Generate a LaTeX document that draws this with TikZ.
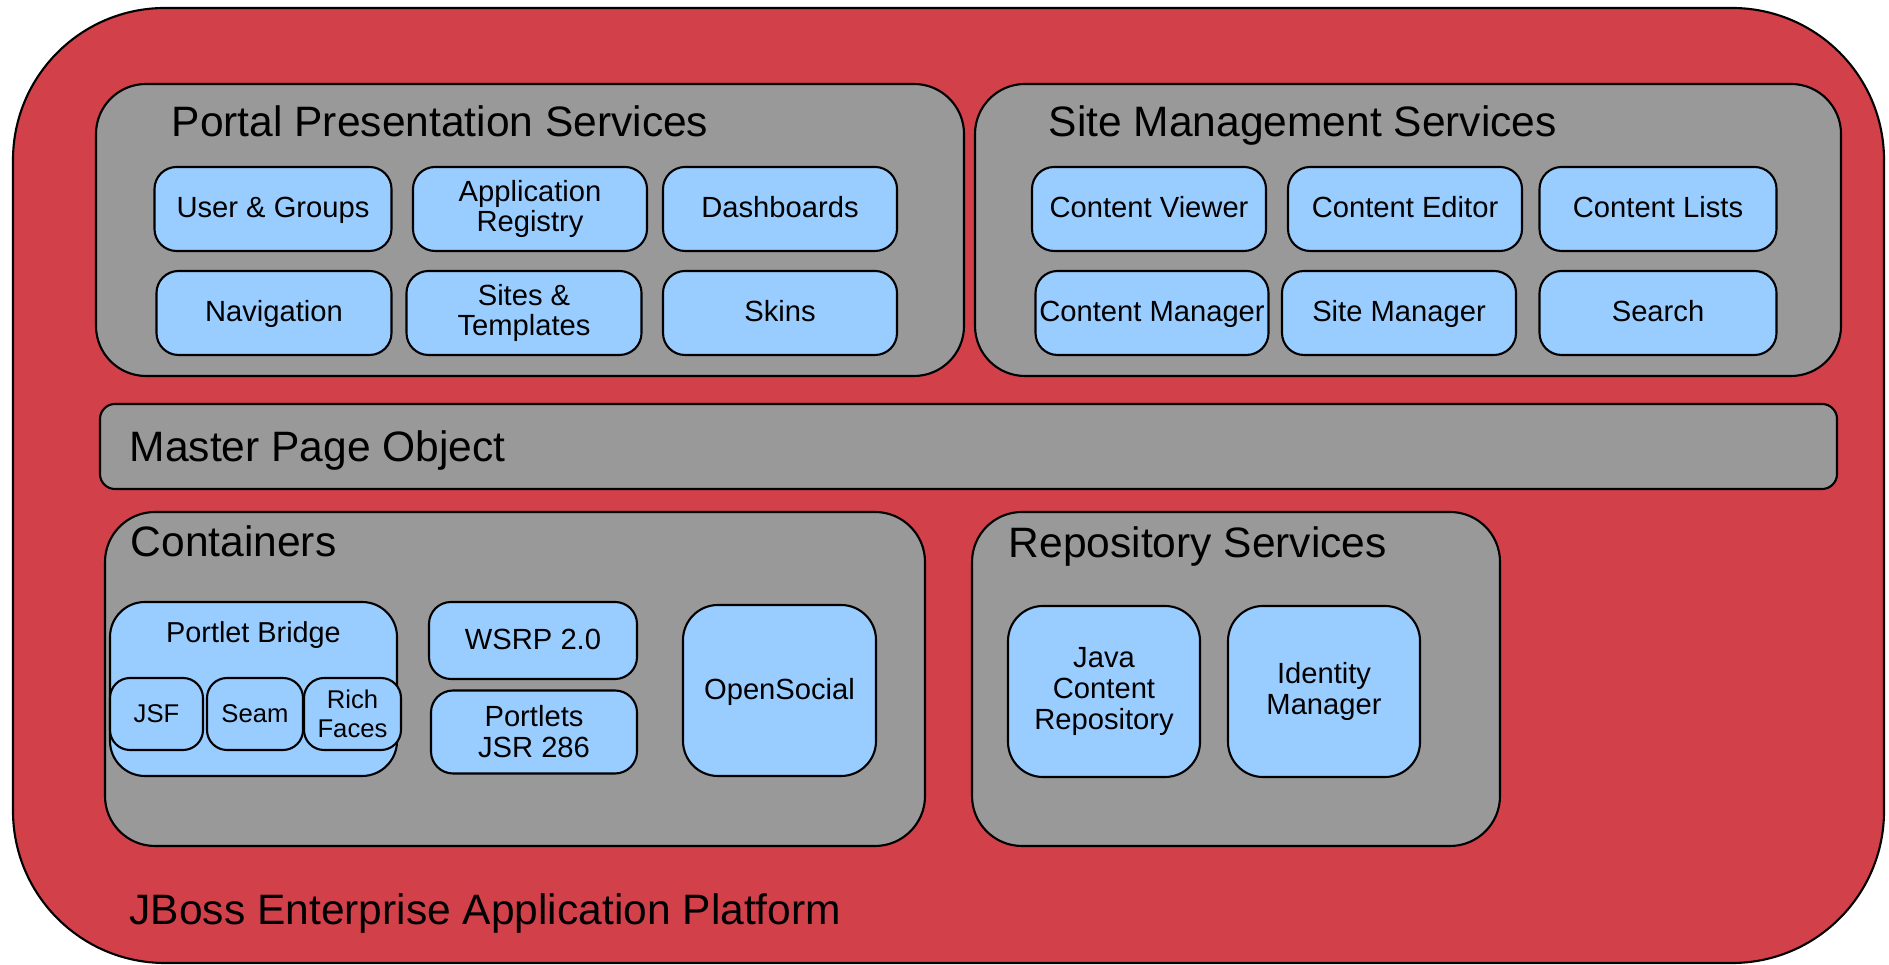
\documentclass[tikz,border=0pt]{standalone}
\usepackage{fontspec}
\setmainfont{Liberation Sans}
\usetikzlibrary{positioning}
\definecolor{jbred}{HTML}{D2404A}
\definecolor{grpgray}{HTML}{999999}
\definecolor{compblue}{HTML}{99CCFF}

\begin{document}
\begin{tikzpicture}

\tikzset{platform/.style = {draw, fill=jbred, line width=0.6pt, rounded corners=1.52cm, inner sep=0pt}}
\tikzset{group/.style = {draw, fill=grpgray, line width=0.6pt, rounded corners=0.5cm, inner sep=0pt}}
\tikzset{comp/.style = {draw, fill=compblue, line width=0.6pt, rounded corners=0.22cm, inner sep=0pt, align=center, font=\fontsize{8.3}{8.8}\selectfont}}
\tikzset{oneline/.style = {text height=0.72em, text depth=0.21em}}
\tikzset{title/.style = {anchor=base west, inner sep=0pt, font=\fontsize{12.1}{14}\selectfont}}

\useasboundingbox (0,0) rectangle (18.89,9.65);

%platform
\node[platform, minimum width=18.71cm, minimum height=9.55cm] (jbeap) at (9.485,4.795) {};
\node[title] (jbeapT) at (1.29,0.40) {JBoss Enterprise Application Platform};

%groups
\node[group, minimum width=8.68cm, minimum height=2.92cm] (pps) at (5.30,7.35) {};
\node[group, minimum width=8.66cm, minimum height=2.92cm] (sms) at (14.08,7.35) {};
\node[group, rounded corners=0.15cm, minimum width=17.37cm, minimum height=0.85cm] (mpo) at (9.685,5.185) {};
\node[group, minimum width=8.20cm, minimum height=3.34cm] (cont) at (5.15,2.86) {};
\node[group, minimum width=5.28cm, minimum height=3.34cm] (repo) at (12.36,2.86) {};

\node[title] (ppsT) at (1.71,8.28) {Portal Presentation Services};
\node[title] (smsT) at (10.48,8.28) {Site Management Services};
\node[title] (mpoT) at (1.29,5.03) {Master Page Object};
\node[title] (contT) at (1.30,4.08) {Containers};
\node[title] (repoT) at (10.08,4.07) {Repository Services};

%portal presentation services
\node[comp, oneline, minimum width=2.37cm, minimum height=0.84cm] (users) at (2.73,7.56) {User \& Groups};
\node[comp, minimum width=2.34cm, minimum height=0.84cm] (appreg) at (5.30,7.56) {Application\\Registry};
\node[comp, oneline, minimum width=2.34cm, minimum height=0.84cm] (dash) at (7.80,7.56) {Dashboards};
\node[comp, oneline, minimum width=2.35cm, minimum height=0.84cm] (nav) at (2.74,6.52) {Navigation};
\node[comp, minimum width=2.35cm, minimum height=0.84cm] (sites) at (5.24,6.52) {Sites \&\\Templates};
\node[comp, oneline, minimum width=2.34cm, minimum height=0.84cm] (skins) at (7.80,6.52) {Skins};

%site management services
\node[comp, oneline, minimum width=2.34cm, minimum height=0.84cm] (cview) at (11.49,7.56) {Content Viewer};
\node[comp, oneline, minimum width=2.34cm, minimum height=0.84cm] (cedit) at (14.05,7.56) {Content Editor};
\node[comp, oneline, minimum width=2.37cm, minimum height=0.84cm] (clist) at (16.58,7.56) {Content Lists};
\node[comp, oneline, minimum width=2.33cm, minimum height=0.84cm] (cman) at (11.52,6.52) {Content Manager};
\node[comp, oneline, minimum width=2.34cm, minimum height=0.84cm] (sman) at (13.99,6.52) {Site Manager};
\node[comp, oneline, minimum width=2.37cm, minimum height=0.84cm] (search) at (16.58,6.52) {Search};

%containers
\node[comp, rounded corners=0.35cm, minimum width=2.87cm, minimum height=1.74cm] (bridge) at (2.535,2.76) {};
\node[oneline, inner sep=0pt, font=\fontsize{8.2}{8.8}\selectfont] (bridgeT) at (2.535,3.31) {Portlet Bridge};
\node[comp, oneline, rounded corners=0.2cm, font=\fontsize{7.3}{8.2}\selectfont, minimum width=0.93cm, minimum height=0.72cm] (jsf) at (1.565,2.51) {JSF};
\node[comp, oneline, rounded corners=0.2cm, font=\fontsize{7.3}{8.2}\selectfont, minimum width=0.96cm, minimum height=0.72cm] (seam) at (2.55,2.51) {Seam};
\node[comp, rounded corners=0.2cm, font=\fontsize{7.3}{8.2}\selectfont, minimum width=0.97cm, minimum height=0.72cm] (rich) at (3.525,2.51) {Rich\\Faces};
\node[comp, oneline, minimum width=2.08cm, minimum height=0.77cm] (wsrp) at (5.33,3.245) {WSRP 2.0};
\node[comp, minimum width=2.06cm, minimum height=0.83cm] (portlets) at (5.34,2.33) {Portlets\\JSR 286};
\node[comp, oneline, rounded corners=0.35cm, minimum width=1.93cm, minimum height=1.71cm] (social) at (7.795,2.745) {OpenSocial};

%repository services
\node[comp, rounded corners=0.35cm, minimum width=1.92cm, minimum height=1.71cm] (jcr) at (11.04,2.735) {Java\\Content\\Repository};
\node[comp, rounded corners=0.35cm, minimum width=1.92cm, minimum height=1.71cm] (idm) at (13.24,2.735) {Identity\\Manager};

\end{tikzpicture}
\end{document}
